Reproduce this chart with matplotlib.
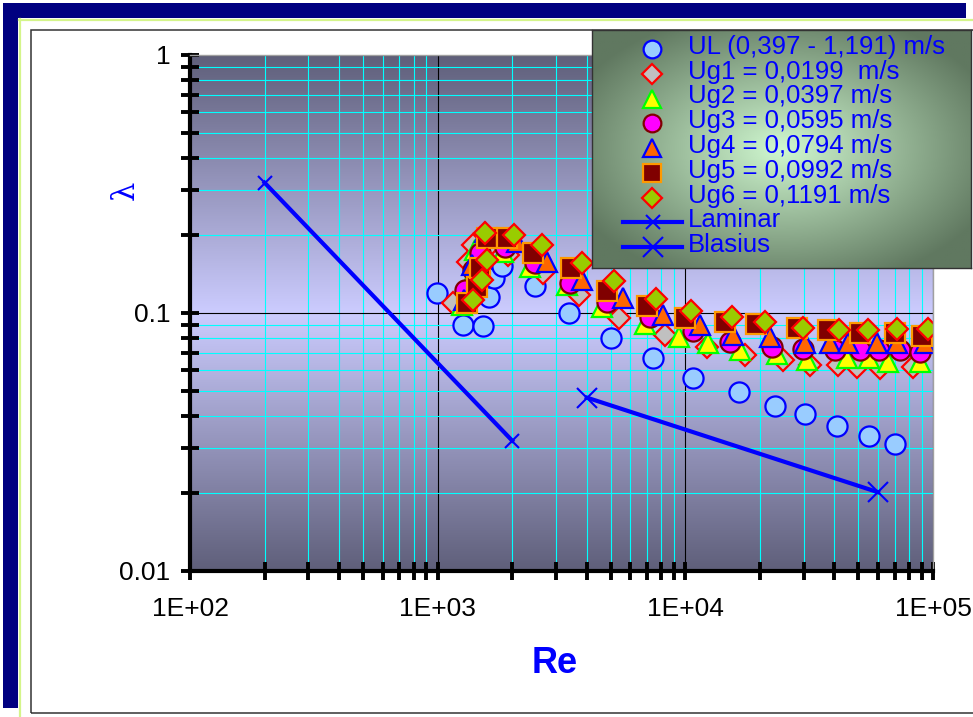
import numpy as np
import matplotlib.pyplot as plt
from matplotlib.patches import Rectangle
from matplotlib.lines import Line2D
from matplotlib.ticker import FuncFormatter, NullFormatter, LogLocator

plt.rcParams['font.family'] = ['Liberation Sans', 'DejaVu Sans']

# ---- data ----
re_ul = [990, 1265, 1525, 1610, 1690, 1815, 2470, 3390, 5000, 7420, 10750,
         16440, 22930, 30300, 40800, 55000, 70000]
lam_ul = [0.1196, 0.0898, 0.0891, 0.1153, 0.1367, 0.1521, 0.1272, 0.100, 0.080,
          0.067, 0.056, 0.0494, 0.0436, 0.0406, 0.0365, 0.0334, 0.0311]

re_ug1 = [1153, 1325, 1388, 1596, 1923, 2661, 3717, 5395, 8280, 12220, 17400,
          24790, 31850, 41300, 49300, 61070, 82990]
lam_ug1 = [0.109, 0.158, 0.183, 0.180, 0.168, 0.143, 0.117, 0.0956, 0.0822,
           0.0738, 0.0687, 0.0657, 0.0629, 0.0629, 0.0617, 0.0612, 0.0617]

re_ug2 = [1253, 1350, 1414, 1834, 2358, 3327, 4603, 6868, 9420, 12330, 16600,
          23420, 30960, 44900, 55100, 65750, 88500]
lam_ug2 = [0.107, 0.134, 0.176, 0.172, 0.151, 0.128, 0.1055, 0.0906, 0.0807,
           0.0765, 0.0719, 0.0694, 0.0657, 0.0670, 0.0670, 0.0646, 0.0646]

re_ug3 = [1289, 1388, 1483, 1870, 2472, 3422, 4823, 7200, 10740, 15140, 22370,
          29830, 40200, 50720, 60500, 73500, 88500]
lam_ug3 = [0.1228, 0.1468, 0.171, 0.180, 0.156, 0.1306, 0.110, 0.0965, 0.0852,
           0.0772, 0.0738, 0.0725, 0.0719, 0.0719, 0.0719, 0.0719, 0.0706]

re_ug4 = [1276, 1375, 1553, 2090, 2762, 3826, 5600, 8126, 11460, 15560, 21970,
          30400, 38380, 45300, 59400, 71480, 92660]
lam_ug4 = [0.1123, 0.1535, 0.206, 0.1885, 0.158, 0.134, 0.1144, 0.0983, 0.0898,
           0.0822, 0.0807, 0.0765, 0.0765, 0.0765, 0.0765, 0.0765, 0.0765]

re_ug5 = [1313, 1442, 1483, 1582, 1905, 2427, 3452, 4823, 6993, 9960, 14440,
          19270, 28230, 37650, 50720, 70200, 90200]
lam_ug5 = [0.109, 0.126, 0.149, 0.195, 0.195, 0.171, 0.149, 0.1217, 0.1064,
           0.0956, 0.0922, 0.0906, 0.0875, 0.0859, 0.0836, 0.0836, 0.0814]

re_ug6 = [1388, 1510, 1553, 1582, 2032, 2636, 3826, 5155, 7610, 10530, 15420,
          20960, 29830, 41720, 54600, 71480, 95300]
lam_ug6 = [0.1123, 0.134, 0.204, 0.160, 0.2005, 0.1836, 0.156, 0.133, 0.1133,
           0.1018, 0.0965, 0.0922, 0.0875, 0.0859, 0.0859, 0.0867, 0.0867]

re_lam = [200, 2000]
lam_lam = [0.32, 0.032]
re_bla = [4000, 60000]
lam_bla = [0.047, 0.0202]

labels = ['UL (0,397 - 1,191) m/s', 'Ug1 = 0,0199  m/s', 'Ug2 = 0,0397 m/s',
          'Ug3 = 0,0595 m/s', 'Ug4 = 0,0794 m/s', 'Ug5 = 0,0992 m/s',
          'Ug6 = 0,1191 m/s', 'Laminar', 'Blasius']

series = [(re_ul, lam_ul), (re_ug1, lam_ug1), (re_ug2, lam_ug2), (re_ug3, lam_ug3),
          (re_ug4, lam_ug4), (re_ug5, lam_ug5), (re_ug6, lam_ug6)]
styles = [
    dict(marker='o', ms=14.5, mfc='#99CCFF', mec='#0000FF', mew=1.6),
    dict(marker='D', ms=11, mfc='#C0C0C0', mec='#FF0000', mew=1.6),
    dict(marker='^', ms=14.5, mfc='#FFFF00', mec='#00FF00', mew=1.6),
    dict(marker='o', ms=14.5, mfc='#FF00FF', mec='#800000', mew=1.6),
    dict(marker='^', ms=14.5, mfc='#FF6600', mec='#0000FF', mew=1.6),
    dict(marker='s', ms=14, mfc='#800000', mec='#FF9900', mew=1.6),
    dict(marker='D', ms=11, mfc='#99CC00', mec='#FF0000', mew=1.6),
]
line_styles = [
    dict(color='#0000FF', lw=3, marker='x', ms=10, mew=1.5),
    dict(color='#0000FF', lw=3, marker='x', ms=14, mew=1.5),
]

W, H = 973, 717
def fx(x): return x / W
def fy(y): return 1 - y / H

fig = plt.figure(figsize=(W / 100, H / 100), dpi=100)

# page decoration around the chart
fig.add_artist(Rectangle((fx(3), fy(18)), fx(966) - fx(3), fy(3) - fy(18),
                         transform=fig.transFigure, color='#000080', lw=0))
fig.add_artist(Rectangle((fx(3), fy(708)), fx(18) - fx(3), fy(3) - fy(708),
                         transform=fig.transFigure, color='#000080', lw=0))
fig.add_artist(Line2D([fx(19), 1], [fy(19.5), fy(19.5)], transform=fig.transFigure,
                      color='#D4F58A', lw=1.6))
fig.add_artist(Line2D([fx(20), fx(20)], [fy(19), 0], transform=fig.transFigure,
                      color='#D4F58A', lw=1.6))
fig.add_artist(Rectangle((fx(31), fy(713)), fx(1000) - fx(31), fy(30) - fy(713),
                         transform=fig.transFigure, fill=False, ec='#333333', lw=1.1))

pos = [fx(190), fy(571), (933 - 190) / W, (571 - 55) / H]

# vertical gradient behind the plot area
bg = fig.add_axes(pos, zorder=0)
v = np.abs(np.linspace(-1, 1, 300))[:, None]
edge = np.array([95, 95, 122]) / 255
centre = np.array([204, 204, 255]) / 255
grad = centre * (1 - v[..., None]) + edge * v[..., None]
grad = np.repeat(grad, 2, axis=1)
bg.imshow(grad, aspect='auto', extent=[0, 1, 0, 1])
bg.axis('off')

ax = fig.add_axes(pos, zorder=1)
ax.set_facecolor('none')
ax.set_xscale('log')
ax.set_yscale('log')
ax.set_xlim(100, 1e5)
ax.set_ylim(0.01, 1)

ax.xaxis.set_minor_locator(LogLocator(base=10, subs=np.arange(2, 10)))
ax.yaxis.set_minor_locator(LogLocator(base=10, subs=np.arange(2, 10)))
ax.xaxis.set_minor_formatter(NullFormatter())
ax.yaxis.set_minor_formatter(NullFormatter())
ax.xaxis.set_major_formatter(FuncFormatter(lambda v, _: '1E+%02d' % round(np.log10(v))))
ax.yaxis.set_major_formatter(FuncFormatter(lambda v, _: '%g' % v))

ax.grid(which='minor', color='#00FFFF', lw=0.8)
ax.grid(which='major', color='black', lw=0.8)
ax.set_axisbelow(True)

for s in ['left', 'bottom']:
    ax.spines[s].set_linewidth(3)
    ax.spines[s].set_color('black')
for s in ['top', 'right']:
    ax.spines[s].set_color('#A0A0A0')
    ax.spines[s].set_linewidth(1)

ax.tick_params(which='both', direction='inout', length=13, width=2.8, color='black',
               top=False, right=False)
ax.tick_params(axis='y', which='major', labelsize=19, pad=7.5)
ax.tick_params(axis='x', which='major', labelsize=19, pad=12)

for (x, y), st in zip(series, styles):
    ax.plot(x, y, ls='none', **st)
ax.plot(re_lam, lam_lam, **line_styles[0])
ax.plot(re_bla, lam_bla, **line_styles[1])

ax.set_xlabel('Re', fontsize=26, fontweight='bold', color='#0000FF')
ax.xaxis.label.set_va('center')
ax.xaxis.set_label_coords(0.491, -0.18)
ax.set_ylabel('λ', fontsize=22, color='#0000FF', family='DejaVu Serif', rotation=90)
ax.yaxis.label.set_va('center')
ax.yaxis.set_label_coords(-0.0875, 0.738)

# legend box with centre gradient
lx0, lx1, ly0, ly1 = 592, 971, 30, 268
lax = fig.add_axes([fx(lx0), fy(ly1), (lx1 - lx0) / W, (ly1 - ly0) / H], zorder=3)
gx = np.linspace(-1, 1, 200)
gy = np.linspace(-1, 1, 120)
GX, GY = np.meshgrid(gx, gy)
r = np.clip(np.sqrt(GX ** 2 + GY ** 2) / 1.2, 0, 1)
lg_edge = np.array([96, 120, 96]) / 255
lg_centre = np.array([208, 248, 208]) / 255
lgrad = lg_centre * (1 - r[..., None]) + lg_edge * r[..., None]
lax.imshow(lgrad, aspect='auto', extent=[lx0, lx1, ly1, ly0])
lax.set_xlim(lx0, lx1)
lax.set_ylim(ly1, ly0)
lax.set_xticks([])
lax.set_yticks([])
for s in lax.spines.values():
    s.set_color('#333333')
    s.set_linewidth(1)

for i, lab in enumerate(labels):
    yy = 49 + i * 24.75
    if i < 7:
        st = dict(styles[i])
        st['ms'] = st['ms'] * 0.88
        lax.plot([652], [yy], ls='none', **st)
    else:
        lax.plot([623, 652.5, 682], [yy] * 3, markevery=[1], **line_styles[i - 7])
    lax.text(688, yy - 2, lab, fontsize=18.5, color='#0000FF', va='center', ha='left')

fig.savefig('out.png', dpi=100)
